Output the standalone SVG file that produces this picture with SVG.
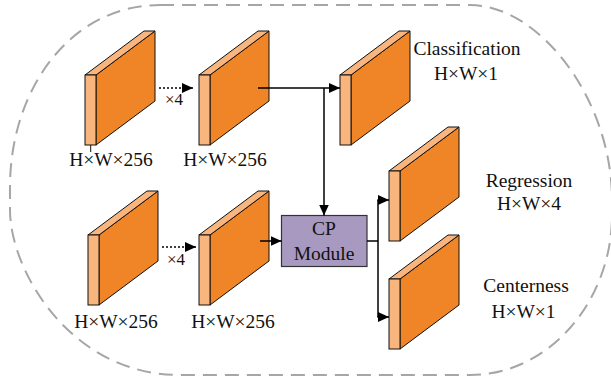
<svg xmlns="http://www.w3.org/2000/svg" xmlns:xlink="http://www.w3.org/1999/xlink" width="611" height="376" viewBox="0 0 611 376">
  <style>
    .lbl { font-size: 19.5px; text-anchor: middle; }
    .rep { font-size: 17px; }
    .front { fill: #F8B57E; stroke: #111; stroke-width: 1; }
    .side { fill: #F08527; stroke: #111; stroke-width: 1; stroke-linejoin: round; }
    .top { fill: #F8B57E; stroke: #111; stroke-width: 1; stroke-linejoin: round; }
    .wire { fill: none; stroke: #000; stroke-width: 1.5; }
    .dots { fill: none; stroke: #000; stroke-width: 1.5; stroke-dasharray: 2 2; }
    .frame { fill: none; stroke: #A6A6A6; stroke-width: 2; stroke-dasharray: 14 8; }
  </style>
  <defs>
    <!-- feature map slab: front edge at (0,0), depth offset (59,-44) -->
    <g id="slab">
      <polygon class="side" points="11,0 70,-44 70,26 11,70"/>
      <polygon class="top" points="0,0 11,0 70,-44 59,-44"/>
      <rect class="front" x="0" y="0" width="11" height="70"/>
    </g>
    <marker id="head" viewBox="0 0 11 10" refX="11" refY="5" markerWidth="11" markerHeight="10" markerUnits="userSpaceOnUse" orient="auto">
      <path d="M0,0 L11,5 L0,10 z" fill="#000"/>
    </marker>
  </defs>

  <!-- dashed head outline -->
  <path class="frame" d="M160,5 L470,5 C540,5 612,100 612,200 L612,215 C612,300 550,375 470,375 L180,375 C70,375 10,270 10,210 L10,187 C10,90 70,5 160,5 Z"/>

  <g font-family="Liberation Serif, DejaVu Serif, serif" fill="#111">
    <g id="cls-in">
      <use xlink:href="#slab" x="85" y="75"/>
      <line x1="90.7" y1="145" x2="90.7" y2="152" stroke="#111" stroke-width="1"/>
      <text class="lbl" x="111" y="166">H×W×256</text>
    </g>
    <g id="cls-feat">
      <use xlink:href="#slab" x="199" y="75"/>
      <text class="lbl" x="225" y="166">H×W×256</text>
    </g>
    <g id="cls-out">
      <use xlink:href="#slab" x="340" y="75"/>
      <text class="lbl" x="467" y="55">Classification</text>
      <text class="lbl" x="466" y="79.5">H×W×1</text>
    </g>
    <g id="reg-in">
      <use xlink:href="#slab" x="88" y="235"/>
      <text class="lbl" x="116" y="328">H×W×256</text>
    </g>
    <g id="reg-feat">
      <use xlink:href="#slab" x="199" y="235"/>
      <text class="lbl" x="233" y="328">H×W×256</text>
    </g>
    <g id="cp-module">
      <rect x="281.5" y="215.5" width="85.5" height="51" fill="#A899C0" stroke="#333" stroke-width="1.2"/>
      <text class="lbl" x="324" y="235">CP</text>
      <text class="lbl" x="324" y="260">Module</text>
    </g>
    <g id="reg-out">
      <use xlink:href="#slab" x="389" y="171"/>
      <text class="lbl" x="529" y="186.5">Regression</text>
      <text class="lbl" x="529" y="210">H×W×4</text>
    </g>
    <g id="ctr-out">
      <use xlink:href="#slab" x="389" y="279"/>
      <text class="lbl" x="526" y="291.5">Centerness</text>
      <text class="lbl" x="523.5" y="318">H×W×1</text>
    </g>

    <g id="connectors">
      <line class="dots" x1="159" y1="88" x2="193" y2="88" marker-end="url(#head)"/>
      <text class="rep" x="165" y="105">×4</text>
      <line class="dots" x1="162" y1="247" x2="196" y2="247" marker-end="url(#head)"/>
      <text class="rep" x="167" y="265">×4</text>
      <line class="wire" x1="258" y1="88" x2="340" y2="88" marker-end="url(#head)"/>
      <line class="wire" x1="324" y1="88" x2="324" y2="215.5" marker-end="url(#head)"/>
      <line class="wire" x1="260" y1="241" x2="281.5" y2="241" marker-end="url(#head)"/>
      <polyline class="wire" points="367,241 378,241"/>
      <line class="wire" x1="378" y1="200" x2="378" y2="317"/>
      <line class="wire" x1="377.3" y1="200" x2="389" y2="200" marker-end="url(#head)"/>
      <line class="wire" x1="377.3" y1="317" x2="389" y2="317" marker-end="url(#head)"/>
    </g>
  </g>
</svg>
